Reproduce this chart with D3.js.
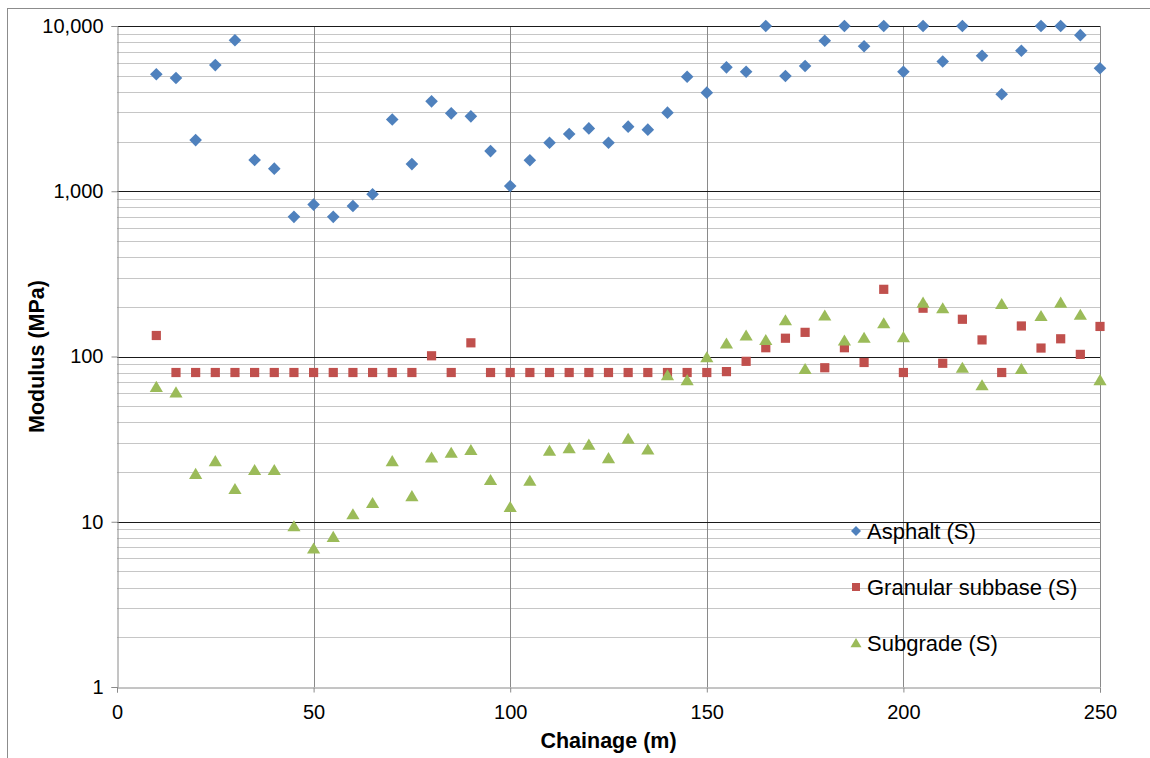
<!DOCTYPE html>
<html>
<head>
<meta charset="utf-8">
<script src="https://cdn.jsdelivr.net/npm/d3@7"></script>
<style>
  html, body { margin: 0; padding: 0; background: #fff; }
  svg { display: block; }
  text { font-family: "Liberation Sans", Arial, sans-serif; fill: #000; }
</style>
</head>
<body>
<div id="chart"></div>
<script>
// Chainage stations (m)
const chainage = [10, 15, 20, 25, 30, 35, 40, 45, 50, 55, 60, 65, 70, 75, 80, 85, 90, 95, 100,
  105, 110, 115, 120, 125, 130, 135, 140, 145, 150, 155, 160, 165, 170, 175, 180, 185, 190, 195, 200,
  205, 210, 215, 220, 225, 230, 235, 240, 245, 250];

// Back-calculated layer moduli (MPa)
const asphalt = [5100, 4850, 2040, 5800, 8200, 1545, 1370, 700, 830, 700, 815, 960, 2720, 1460, 3500, 2960, 2840, 1750, 1075,
  1540, 1965, 2220, 2400, 1965, 2460, 2360, 2990, 4930, 3950, 5620, 5290, 10000, 4980, 5730, 8150, 10000, 7540, 10000, 5290,
  10000, 6100, 10000, 6600, 3860, 7090, 10000, 10000, 8800, 5550];

const granularSubbase = [134, 80, 80, 80, 80, 80, 80, 80, 80, 80, 80, 80, 80, 80, 101, 80, 121, 80, 80,
  80, 80, 80, 80, 80, 80, 80, 80, 80, 80, 81, 93.5, 113, 129, 140, 85.5, 113, 92, 255, 80,
  196, 91, 168, 126, 80, 153, 112.5, 128, 103, 152];

const subgrade = [65.5, 60.7, 19.5, 23.3, 15.8, 20.6, 20.6, 9.4, 6.9, 8.1, 11.1, 13.0, 23.3, 14.3, 24.5, 26.2, 27.2, 17.9, 12.3,
  17.7, 26.9, 27.9, 29.3, 24.3, 31.8, 27.4, 77, 72, 99, 120, 134, 126, 166, 84, 177, 125, 130, 159, 131,
  212, 196, 85.5, 67, 208, 84, 176, 212, 179, 72];

const seriesNames = ["Asphalt (S)", "Granular subbase (S)", "Subgrade (S)"];
const seriesColors = ["#4F81BD", "#C0504D", "#9BBB59"];
const xTicks = [0, 50, 100, 150, 200, 250];
const yTicks = [1, 10, 100, 1000, 10000];

const W = 1150, H = 758;
const plot = { left: 117, right: 1100, top: 26, bottom: 687 };

const svg = d3.select("#chart").append("svg")
  .attr("width", W).attr("height", H);

// outer chart border
svg.append("rect")
  .attr("x", 7.5).attr("y", 8.5).attr("width", W + 10).attr("height", H + 10)
  .attr("fill", "none").attr("stroke", "#8c8c8c").attr("stroke-width", 1);

const x = d3.scaleLinear().domain([0, 250]).range([plot.left, plot.right]);
const y = d3.scaleLog().domain([1, 10000]).range([plot.bottom, plot.top]);

const grid = svg.append("g");

// minor horizontal gridlines (2..9 within each decade)
const minor = [];
for (let d = 1; d < 10000; d *= 10) for (let k = 2; k <= 9; k++) minor.push(d * k);
grid.selectAll("line.minor").data(minor).join("line")
  .attr("x1", plot.left).attr("x2", plot.right)
  .attr("y1", d => Math.round(y(d)) + 0.5).attr("y2", d => Math.round(y(d)) + 0.5)
  .attr("stroke", "#c6c6c6").attr("stroke-width", 1);

// vertical gridlines
grid.selectAll("line.vx").data(xTicks.slice(1)).join("line")
  .attr("x1", d => Math.round(x(d)) + 0.5).attr("x2", d => Math.round(x(d)) + 0.5)
  .attr("y1", plot.top).attr("y2", plot.bottom)
  .attr("stroke", "#8a8a8a").attr("stroke-width", 1);

// major horizontal gridlines
grid.selectAll("line.major").data(yTicks.slice(1)).join("line")
  .attr("x1", plot.left).attr("x2", plot.right)
  .attr("y1", d => Math.round(y(d)) + 0.5).attr("y2", d => Math.round(y(d)) + 0.5)
  .attr("stroke", "#1a1a1a").attr("stroke-width", 1.2);

// axes
const fmt = d3.format(",");
const yAxis = d3.axisLeft(y).tickValues(yTicks).tickFormat(fmt).tickSize(6).tickPadding(8);
const gy = svg.append("g").attr("transform", `translate(${plot.left + 0.5},0)`).call(yAxis);
gy.select(".domain").attr("stroke", "#8a8a8a");
gy.selectAll(".tick line").attr("stroke", "#8a8a8a");
gy.selectAll(".tick text").style("font-size", "20px").style("font-family", "Liberation Sans, Arial, sans-serif");

const xAxis = d3.axisBottom(x).tickValues(xTicks).tickSize(5).tickPadding(12);
const gx = svg.append("g").attr("transform", `translate(0,${plot.bottom + 0.5})`).call(xAxis);
gx.select(".domain").attr("stroke", "#8a8a8a");
gx.selectAll(".tick line").attr("stroke", "#8a8a8a");
gx.selectAll(".tick text").style("font-size", "20px").style("font-family", "Liberation Sans, Arial, sans-serif");

// axis titles
svg.append("text")
  .attr("x", (plot.left + plot.right) / 2).attr("y", 748)
  .attr("text-anchor", "middle")
  .style("font-size", "21.5px").style("font-weight", "bold")
  .text("Chainage (m)");
svg.append("text")
  .attr("transform", `translate(44,${(plot.top + plot.bottom) / 2}) rotate(-90)`)
  .attr("text-anchor", "middle")
  .style("font-size", "21.5px").style("font-weight", "bold")
  .text("Modulus (MPa)");

// marker shapes
const diamondPath = s => `M0,${-s}L${s},0L0,${s}L${-s},0Z`;
const squarePath = s => `M${-s},${-s}H${s}V${s}H${-s}Z`;
const trianglePath = s => `M0,${-s}L${s * 1.1},${s * 0.85}H${-s * 1.1}Z`;

const series = [
  { values: asphalt, path: diamondPath(6.3) },
  { values: granularSubbase, path: squarePath(4.6) },
  { values: subgrade, path: trianglePath(6) }
];

series.forEach((s, i) => {
  svg.append("g").selectAll("path").data(chainage).join("path")
    .attr("d", s.path)
    .attr("transform", (c, j) => `translate(${x(c)},${y(s.values[j])})`)
    .attr("fill", seriesColors[i]);
});

// legend
const legendPaths = [diamondPath(5), squarePath(4), trianglePath(5)];
const leg = svg.append("g");
seriesNames.forEach((name, i) => {
  const ly = 531 + i * 56;
  leg.append("path").attr("d", legendPaths[i])
    .attr("transform", `translate(856,${ly})`).attr("fill", seriesColors[i]);
  leg.append("text").attr("x", 867).attr("y", ly + 7.5)
    .style("font-size", "22px").text(name);
});
</script>
</body>
</html>
